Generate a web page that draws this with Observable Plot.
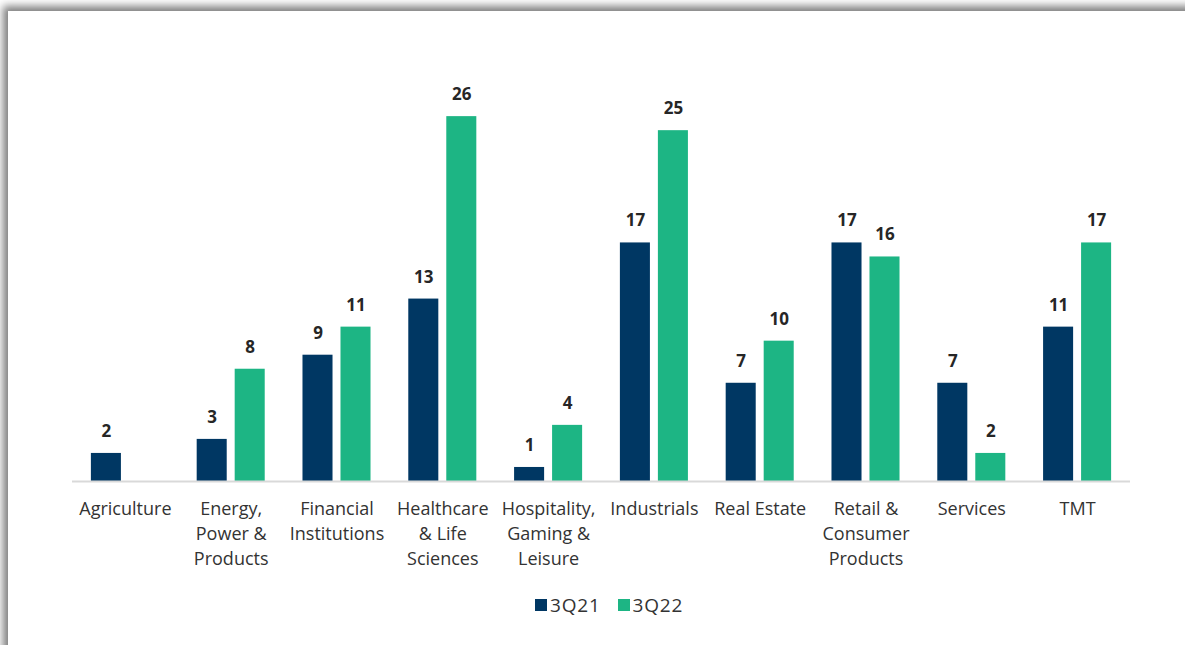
<!DOCTYPE html>
<html>
<head>
<meta charset="utf-8">
<script src="https://cdn.jsdelivr.net/npm/d3@7"></script>
<script src="https://cdn.jsdelivr.net/npm/@observablehq/plot@0.6"></script>
<style>
  html, body { margin: 0; padding: 0; width: 1185px; height: 645px; overflow: hidden; background: #ffffff; font-family: "Open Sans", sans-serif; }
  #frame { position: absolute; left: 8px; top: 11px; width: 1220px; height: 680px; background: #ffffff;
           box-shadow: -5px -5px 8px rgba(0,0,0,0.5); }
  #chart { position: absolute; left: 0; top: 0; }
  #legend { position: absolute; top: 592px; left: 535px; display: flex; align-items: center; font-size: 19px; letter-spacing: 0.8px; color: #333333; }
  .item { display: flex; align-items: center; margin-right: 17px; }
  .sw { width: 12px; height: 12px; margin-right: 3px; }
</style>
</head>
<body>
<div id="frame"></div>
<div id="chart"></div>
<div id="legend"></div>
<script>
const categories = ["Agriculture", "Energy, Power & Products", "Financial Institutions", "Healthcare & Life Sciences", "Hospitality, Gaming & Leisure", "Industrials", "Real Estate", "Retail & Consumer Products", "Services", "TMT"];
const tickLabels = ["Agriculture", "Energy,\nPower &\nProducts", "Financial\nInstitutions", "Healthcare\n& Life\nSciences", "Hospitality,\nGaming &\nLeisure", "Industrials", "Real Estate", "Retail &\nConsumer\nProducts", "Services", "TMT"];
const values3Q21 = [2, 3, 9, 13, 1, 17, 7, 17, 7, 11];
const values3Q22 = [null, 8, 11, 26, 4, 25, 10, 16, 2, 17];
const seriesNames = ["3Q21", "3Q22"];
const seriesColors = ["#003763", "#1db584"];

const rows21 = categories.map((c, i) => ({category: c, value: values3Q21[i]})).filter(d => d.value != null);
const rows22 = categories.map((c, i) => ({category: c, value: values3Q22[i]})).filter(d => d.value != null);
const labelMap = new Map(categories.map((c, i) => [c, tickLabels[i]]));

const chart = Plot.plot({
  width: 1185,
  height: 580,
  marginLeft: 72,
  marginRight: 55,
  marginTop: 60,
  marginBottom: 99,
  style: {fontFamily: "'Open Sans', sans-serif", background: "transparent", color: "#333333"},
  x: {domain: categories, paddingInner: 0.357, paddingOuter: 0.1785, round: false},
  y: {domain: [0, 30], axis: null},
  marks: [
    Plot.barY(rows21, {x: "category", y: "value", fill: seriesColors[0], insetRight: 38}),
    Plot.barY(rows22, {x: "category", y: "value", fill: seriesColors[1], insetLeft: 38}),
    Plot.ruleY([0], {stroke: "#d9d9d9", strokeWidth: 2}),
    Plot.text(rows21, {x: "category", y: "value", text: d => String(d.value), dx: -19, dy: -22, lineAnchor: "middle", fontWeight: "bold", fontSize: 17, fill: "#262626"}),
    Plot.text(rows22, {x: "category", y: "value", text: d => String(d.value), dx: 19, dy: -22, lineAnchor: "middle", fontWeight: "bold", fontSize: 17, fill: "#262626"}),
    Plot.axisX({tickSize: 0, tickPadding: 16, tickFormat: d => labelMap.get(d), fontSize: 18, lineHeight: 1.39, fill: "#333333", label: null})
  ]
});
document.getElementById("chart").appendChild(chart);

const legend = document.getElementById("legend");
seriesNames.forEach((s, i) => {
  const item = document.createElement("div");
  item.className = "item";
  const sw = document.createElement("div");
  sw.className = "sw";
  sw.style.background = seriesColors[i];
  const t = document.createElement("span");
  t.textContent = s;
  item.appendChild(sw);
  item.appendChild(t);
  legend.appendChild(item);
});
</script>
</body>
</html>
